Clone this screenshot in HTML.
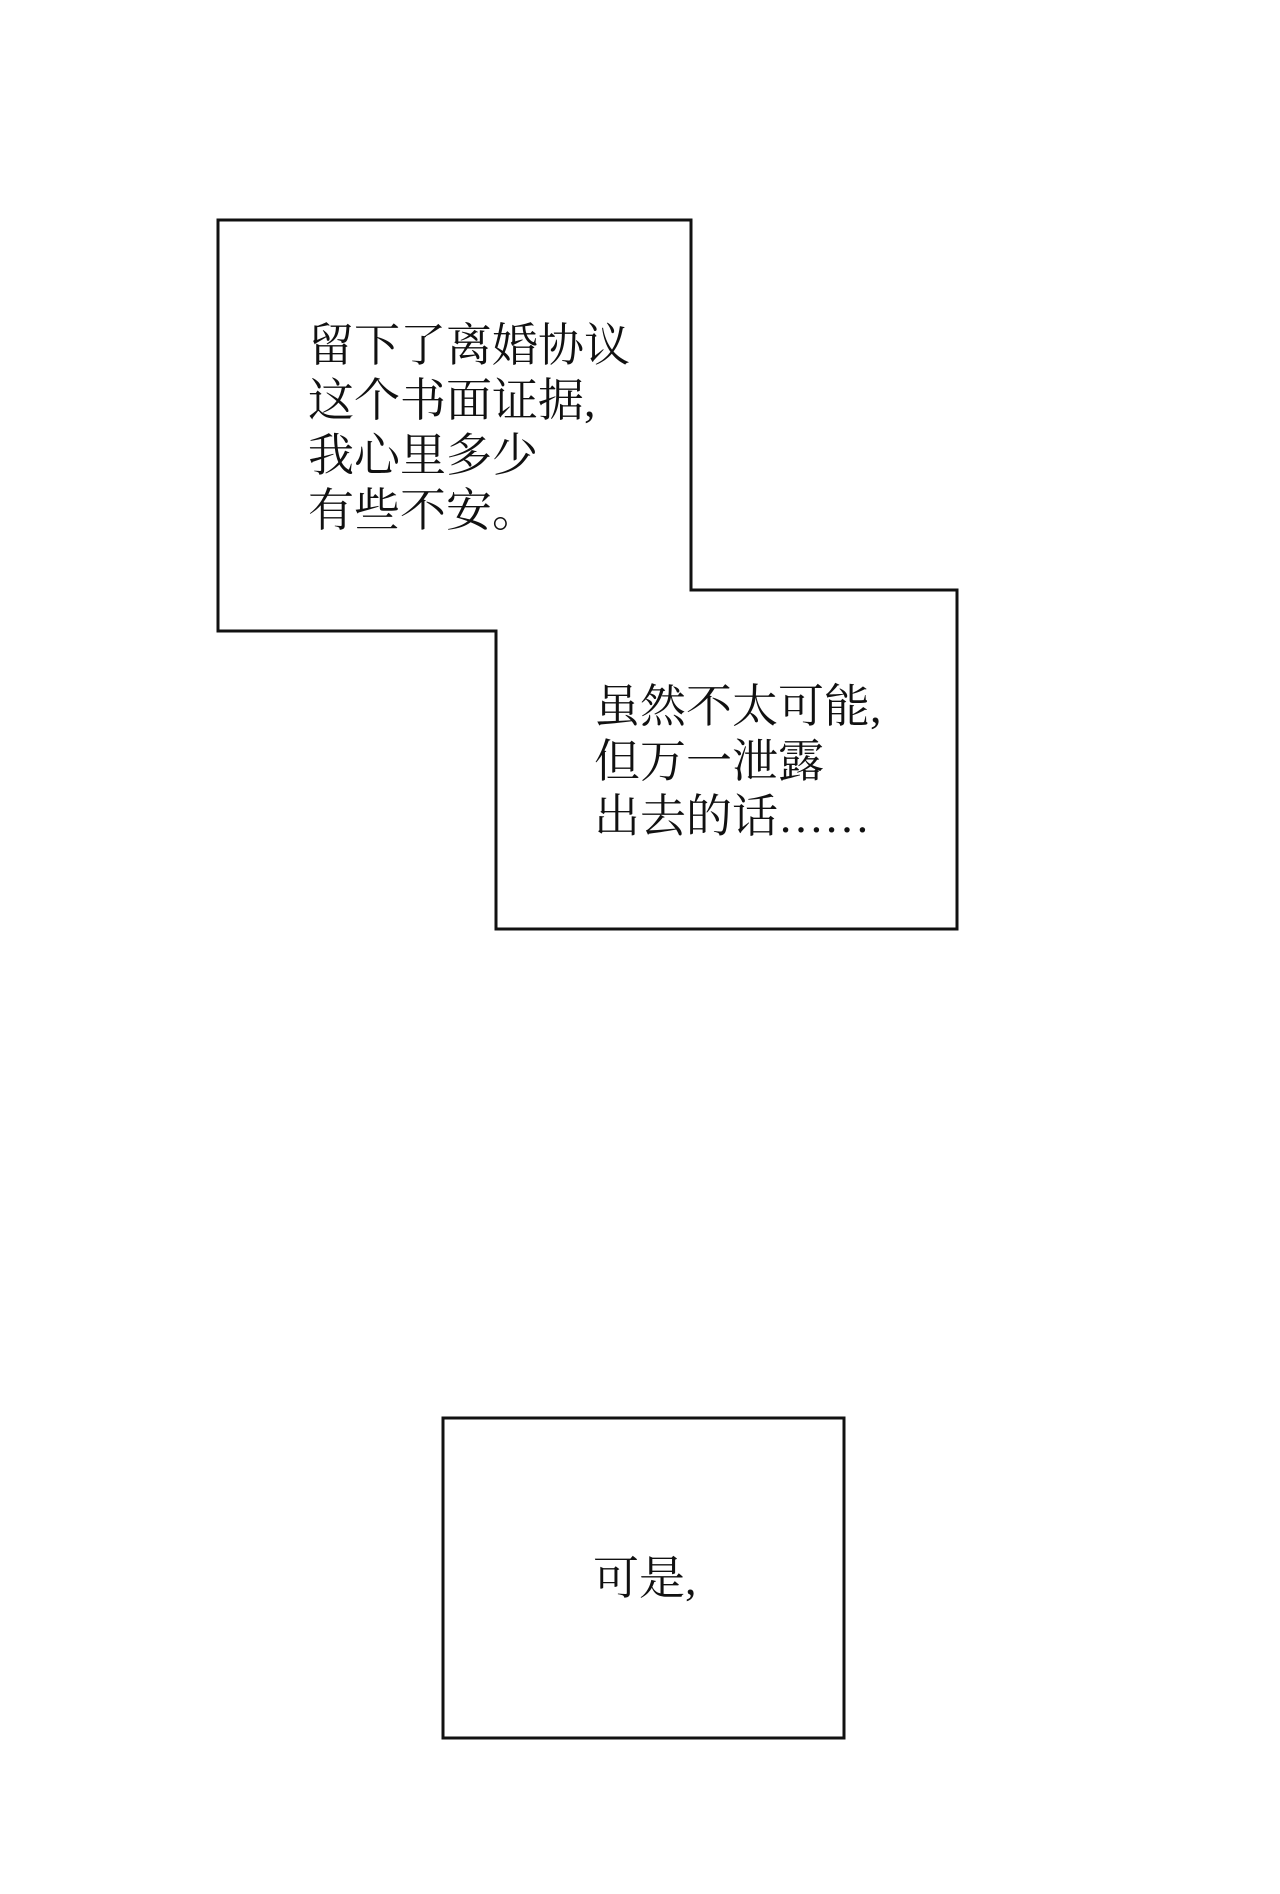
<!DOCTYPE html>
<html><head><meta charset="utf-8"><style>
html,body{margin:0;padding:0;background:#fff;}
body{width:1280px;height:1894px;position:relative;overflow:hidden;font-family:"Liberation Serif","Noto Serif CJK SC",serif;}
.t{position:absolute;font-size:46px;line-height:55px;color:#111;white-space:nowrap;}
</style></head><body>
<svg width="1280" height="1894" style="position:absolute;left:0;top:0">
<polygon points="218,220 691,220 691,590 957,590 957,929 496,929 496,631 218,631" fill="#fff" stroke="#111" stroke-width="3"/>
<rect x="443" y="1418" width="401" height="320" fill="#fff" stroke="#111" stroke-width="3"/>
</svg>
<div class="t" style="left:308px;top:318px">留下了离婚协议<br>这个书面证据,<br>我心里多少<br>有些不安。</div>
<div class="t" style="left:594px;top:679px">虽然不太可能,<br>但万一泄露<br>出去的话……</div>
<div class="t" style="left:593px;top:1551px">可是,</div>
</body></html>
